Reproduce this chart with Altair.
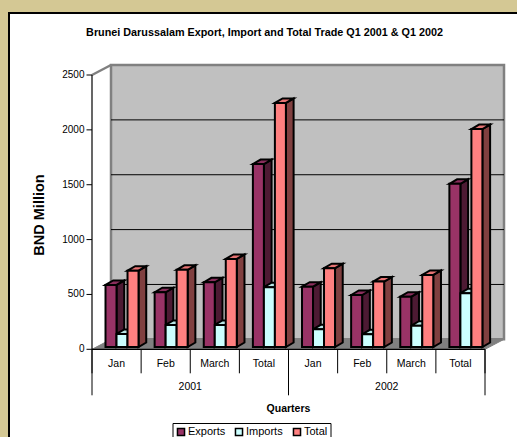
import altair as alt
import pandas as pd

# ---------------- data ----------------
months = ["Jan", "Feb", "March", "Total"]
years = ["2001", "2002"]
series = ["Exports", "Imports", "Total"]
exports = [566, 499, 590, 1667, 550, 474, 459, 1487]
imports = [119, 201, 201, 545, 161, 116, 194, 490]
totals = [696, 703, 803, 2224, 718, 596, 657, 1986]
y_ticks = [0, 500, 1000, 1500, 2000, 2500]
grid_values = [500, 1000, 1500, 2000]
chart_title = "Brunei Darussalam Export, Import and Total Trade Q1 2001 & Q1 2002"
y_title = "BND Million"
x_title = "Quarters"

# ---------------- style ----------------
FONT = "Liberation Sans"
PAD_L, PAD_T = 8, 12
W, H = 517 - PAD_L, 437 - PAD_T
X_RANGE = [84, 477]
Y_RANGE = [337.3, 63]
WALL_DX, WALL_DY = 0.387, 91
BAR_DX, BAR_DY = 0.157, 41
BAR_BASE = 21
BAR_W = 0.224
GROUP_OFF = 0.275
front_colors = ["#993366", "#CCFFFF", "#FF8080"]
side_colors = ["#4D1A33", "#668080", "#804040"]
top_colors = ["#8A2E5C", "#B8E6E6", "#E67373"]

xs = alt.Scale(domain=[0, 8], range=X_RANGE, nice=False, zero=False)
ys = alt.Scale(domain=[0, 2500], range=Y_RANGE, nice=False, zero=False)

n_cat = len(months) * len(years)
values = [exports, imports, totals]

front_rows, side_rows, top_rows = [], [], []
for i in range(n_cat):
    for s, name in enumerate(series):
        v = values[s][i]
        bid = f"b{i}_{s}"
        xl = i + GROUP_OFF + s * BAR_W
        xr = xl + BAR_W
        base, top = BAR_BASE, BAR_BASE + v
        front_rows.append(dict(id=bid, series=name, xl=xl, xr=xr, y=top, y2=base))
        side_rows += [
            dict(id=bid, series=name, x=xr, y=top, y2=base),
            dict(id=bid, series=name, x=xr + BAR_DX, y=top + BAR_DY, y2=base + BAR_DY),
        ]
        top_rows += [
            dict(id=bid, series=name, x=xl, y=top, y2=top),
            dict(id=bid, series=name, x=xl + BAR_DX, y=top + BAR_DY, y2=top),
            dict(id=bid, series=name, x=xr, y=top + BAR_DY, y2=top),
            dict(id=bid, series=name, x=xr + BAR_DX, y=top + BAR_DY, y2=top + BAR_DY),
        ]
front_df = pd.DataFrame(front_rows)
side_df = pd.DataFrame(side_rows)
top_df = pd.DataFrame(top_rows)

X = lambda f: alt.X(f, type="quantitative", scale=xs, axis=None)
Y = lambda f: alt.Y(f, type="quantitative", scale=ys, axis=None, stack=None)

layers = []

# white panel border lines (left/top)
border = pd.DataFrame({"k": [0]})
layers.append(alt.Chart(border).mark_rule(color="black", strokeWidth=2).encode(
    x=alt.value(1), y=alt.value(0), y2=alt.value(H)))
layers.append(alt.Chart(border).mark_rule(color="black", strokeWidth=2).encode(
    x=alt.value(0), x2=alt.value(W), y=alt.value(1)))

# back wall
wall = pd.DataFrame({"x": [WALL_DX], "x2": [n_cat + WALL_DX], "y": [WALL_DY], "y2": [2500 + WALL_DY]})
layers.append(alt.Chart(wall).mark_rect(fill="#C0C0C0", stroke="#808080", strokeWidth=2.5).encode(
    x=X("x"), x2="x2", y=Y("y"), y2="y2"))
# grid lines on the wall
grid = pd.DataFrame({"v": grid_values})
layers.append(alt.Chart(grid).transform_calculate(
    yy=f"datum.v + {WALL_DY}", xa=f"{WALL_DX}", xb=f"{n_cat + WALL_DX}").mark_rule(
    color="black", strokeWidth=1).encode(x=X("xa:Q"), x2="xb:Q", y=Y("yy:Q")))
# left side-wall top edge
edge = pd.DataFrame({"x": [0, WALL_DX], "y": [2500, 2500 + WALL_DY]})
layers.append(alt.Chart(edge).mark_line(color="#808080", strokeWidth=2.5).encode(
    x=X("x"), y=Y("y")))
# floor
floor = pd.DataFrame({"x": [0, WALL_DX, n_cat, n_cat + WALL_DX],
                      "y": [0, WALL_DY, WALL_DY, WALL_DY],
                      "y2": [0, 0, 0, WALL_DY]})
layers.append(alt.Chart(floor).mark_area(color="#808080", stroke="#808080", strokeWidth=1).encode(
    x=X("x"), y=Y("y"), y2="y2"))

# bars: sides, tops, fronts
for s, name in enumerate(series):
    layers.append(alt.Chart(side_df).transform_filter(alt.datum.series == name).mark_area(
        color=side_colors[s], stroke="black", strokeWidth=2).encode(
        x=X("x"), y=Y("y"), y2="y2", detail="id:N"))
for s, name in enumerate(series):
    layers.append(alt.Chart(top_df).transform_filter(alt.datum.series == name).mark_area(
        color=top_colors[s], stroke="black", strokeWidth=2).encode(
        x=X("x"), y=Y("y"), y2="y2", detail="id:N"))
layers.append(alt.Chart(front_df).mark_rect(stroke="black", strokeWidth=2).encode(
    x=X("xl"), x2="xr", y=Y("y"), y2="y2",
    color=alt.Color("series:N", sort=series,
                    scale=alt.Scale(domain=series, range=front_colors),
                    legend=alt.Legend(title=None, orient="none", legendX=164.5, legendY=411,
                                      direction="horizontal", symbolType="square",
                                      symbolSize=50, symbolStrokeColor="black",
                                      symbolStrokeWidth=1.5, labelFont=FONT, labelFontSize=11,
                                      labelColor="black", labelOffset=1.5, columnPadding=6,
                                      strokeColor="black", fillColor="white", padding=3))))

# y axis (front plane), drawn by hand
yaxis_df = pd.DataFrame({"v": y_ticks})
yline = pd.DataFrame({"x": [0], "y": [0], "y2": [2500]})
layers.append(alt.Chart(yline).mark_rule(color="black", strokeWidth=1.2).encode(
    x=X("x"), y=Y("y"), y2="y2"))
layers.append(alt.Chart(yaxis_df).mark_rule(color="black", strokeWidth=1).encode(
    x=alt.value(X_RANGE[0] - 5.5), x2=alt.value(X_RANGE[0]), y=Y("v")))
layers.append(alt.Chart(yaxis_df).mark_text(font=FONT, fontSize=10, color="black",
                                            align="right", baseline="middle").encode(
    x=alt.value(X_RANGE[0] - 7.5), y=Y("v"), text=alt.Text("v:Q", format="d")))

# x axis: front line, ticks, labels
cats = pd.DataFrame({"i": list(range(n_cat)), "label": months * len(years)})
front_line = pd.DataFrame({"x": [0], "x2": [n_cat], "y": [0]})
layers.append(alt.Chart(front_line).mark_rule(color="black", strokeWidth=1.2).encode(
    x=X("x"), x2="x2", y=Y("y")))
ticks = pd.DataFrame({"t": list(range(n_cat + 1))})
layers.append(alt.Chart(ticks).mark_rule(color="black", strokeWidth=1).encode(
    x=X("t"), y=alt.value(Y_RANGE[0]), y2=alt.value(Y_RANGE[0] + 24)))
year_sep = pd.DataFrame({"t": [0, len(months), n_cat]})
layers.append(alt.Chart(year_sep).mark_rule(color="black", strokeWidth=1).encode(
    x=X("t"), y=alt.value(Y_RANGE[0]), y2=alt.value(Y_RANGE[0] + 46)))
layers.append(alt.Chart(cats).transform_calculate(c="datum.i + 0.5").mark_text(
    font=FONT, fontSize=10.5, color="black", baseline="middle").encode(
    x=X("c:Q"), y=alt.value(352.3), text="label:N"))
yr = pd.DataFrame({"c": [len(months) / 2 + k * len(months) for k in range(len(years))], "label": years})
layers.append(alt.Chart(yr).mark_text(font=FONT, fontSize=10.5, color="black", baseline="middle").encode(
    x=X("c"), y=alt.value(374.7), text="label:N"))

# titles
one = pd.DataFrame({"t": [chart_title]})
layers.append(alt.Chart(one).mark_text(font=FONT, fontSize=10.8, fontWeight="bold", color="black",
                                       baseline="middle").encode(
    x=alt.value(256.5), y=alt.value(20.5), text="t:N"))
one_x = pd.DataFrame({"t": [x_title]})
layers.append(alt.Chart(one_x).mark_text(font=FONT, fontSize=10.5, fontWeight="bold", color="black",
                                         baseline="middle").encode(
    x=alt.value(280.5), y=alt.value(397.3), text="t:N"))
one_y = pd.DataFrame({"t": [y_title]})
layers.append(alt.Chart(one_y).mark_text(font=FONT, fontSize=14.5, fontWeight="bold", color="black",
                                         baseline="middle", angle=270).encode(
    x=alt.value(32), y=alt.value(203), text="t:N"))

chart = alt.layer(*layers).properties(
    width=W, height=H,
    autosize=alt.AutoSizeParams(type="none"),
    padding={"left": PAD_L, "top": PAD_T, "right": 0, "bottom": 0},
    background="#D4C894",
).configure_view(fill="white", stroke=None)

chart.save("out.html", embed_options={"renderer": "svg", "actions": False})
